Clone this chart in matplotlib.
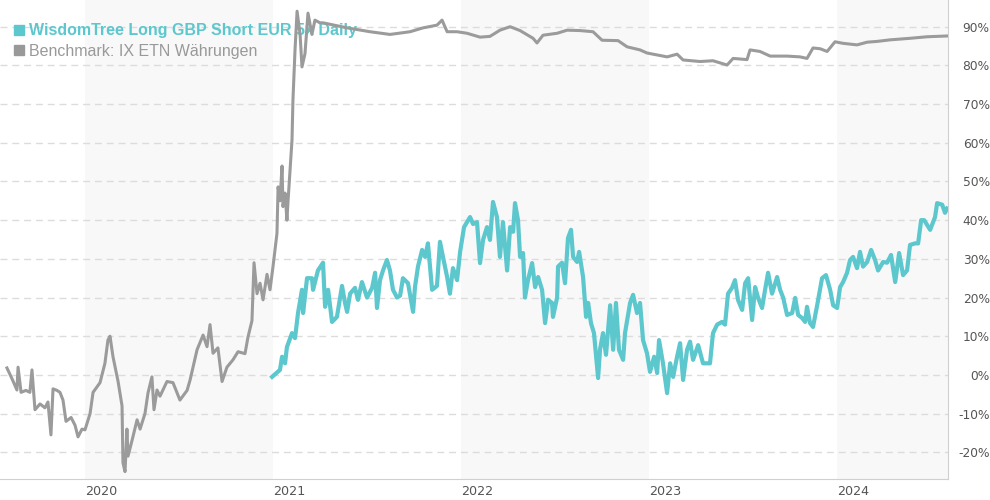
import matplotlib.pyplot as plt
from matplotlib.lines import Line2D

# Benchmark (grau): Zeit als Dezimaljahr, Wert in %
bench_t = [2019.585, 2019.612, 2019.638, 2019.644, 2019.660, 2019.686, 2019.707, 2019.718, 2019.734, 2019.761,
           2019.787, 2019.803, 2019.819, 2019.830, 2019.851, 2019.867, 2019.883, 2019.899, 2019.926, 2019.947,
           2019.963, 2019.984, 2020.000, 2020.027, 2020.043, 2020.080, 2020.106, 2020.122, 2020.133, 2020.149,
           2020.176, 2020.197, 2020.202, 2020.213, 2020.223, 2020.229, 2020.255, 2020.277, 2020.293, 2020.319,
           2020.335, 2020.356, 2020.367, 2020.383, 2020.399, 2020.436, 2020.468, 2020.505, 2020.543, 2020.559,
           2020.596, 2020.628, 2020.649, 2020.665, 2020.681, 2020.707, 2020.729, 2020.755, 2020.787, 2020.814,
           2020.851, 2020.867, 2020.888, 2020.899, 2020.915, 2020.931, 2020.947, 2020.968, 2020.984, 2021.000,
           2021.021, 2021.027, 2021.037, 2021.048, 2021.053, 2021.064, 2021.074, 2021.080, 2021.101, 2021.106,
           2021.117, 2021.128, 2021.144, 2021.154, 2021.170, 2021.186, 2021.207, 2021.223, 2021.250, 2021.266,
           2021.394, 2021.516, 2021.622, 2021.729, 2021.798, 2021.872, 2021.899, 2021.926, 2021.979, 2022.032,
           2022.101, 2022.154, 2022.207, 2022.261, 2022.314, 2022.383, 2022.404, 2022.436, 2022.511, 2022.564,
           2022.633, 2022.702, 2022.750, 2022.835, 2022.883, 2022.952, 2022.989, 2023.096, 2023.149, 2023.181,
           2023.271, 2023.340, 2023.415, 2023.447, 2023.521, 2023.537, 2023.590, 2023.644, 2023.734, 2023.803,
           2023.840, 2023.872, 2023.910, 2023.947, 2023.989, 2024.032, 2024.106, 2024.160, 2024.213, 2024.282,
           2024.388, 2024.479, 2024.585]
bench_v = [1.8, -1, -3.9, 2, -4.5, -4, -4.5, 1.3, -9, -7.5,
           -8.5, -7, -15.5, -3.6, -4, -4.5, -6.5, -12, -11, -13,
           -16, -14, -14.2, -10, -4.5, -2, 3, 9, 10, 4.7,
           -1.7, -8, -22.7, -25, -14, -21, -16, -11.6, -14, -10,
           -4.7, -0.5, -9, -3.9, -5.5, -1.7, -2, -6.5, -4, -1.3,
           6.5, 10.3, 7.3, 13, 5.6, 7, -1.7, 2, 3.9, 6,
           5.5, 9.8, 14, 29, 21, 23.7, 19.4, 26, 22, 28,
           36.6, 48.6, 45, 54, 43.5, 47, 40, 45, 60.7, 71,
           84, 94, 88, 79.6, 83, 93.5, 88, 91.7, 91, 91,
           89.7, 88.7, 88, 88.7, 89.7, 90.4, 91.7, 88.7, 88.7, 88.3,
           87.3, 87.5, 89.1, 90, 89, 87, 85.8, 87.8, 88.3, 89.1,
           89, 88.7, 86.5, 86.4, 84.8, 84, 83.2, 82.2, 82.9, 81.4,
           81, 81.2, 80.1, 81.8, 81.5, 84, 83.6, 82.4, 82.4, 82.2,
           81.8, 84.5, 84.3, 83.6, 86.1, 85.7, 85.3, 86, 86.2, 86.6,
           87, 87.4, 87.6]

# WisdomTree Long GBP Short EUR 5x Daily (türkis)
etp_t = [2020.995, 2021.037, 2021.048, 2021.064, 2021.074, 2021.101, 2021.117, 2021.133, 2021.154, 2021.160,
         2021.181, 2021.207, 2021.213, 2021.239, 2021.266, 2021.277, 2021.293, 2021.314, 2021.340, 2021.367,
         2021.383, 2021.394, 2021.410, 2021.436, 2021.452, 2021.473, 2021.500, 2021.527, 2021.543, 2021.553,
         2021.569, 2021.585, 2021.606, 2021.622, 2021.638, 2021.660, 2021.676, 2021.691, 2021.718, 2021.745,
         2021.755, 2021.771, 2021.793, 2021.809, 2021.824, 2021.846, 2021.872, 2021.888, 2021.904, 2021.926,
         2021.941, 2021.957, 2021.979, 2021.995, 2022.016, 2022.048, 2022.064, 2022.085, 2022.101, 2022.117,
         2022.138, 2022.154, 2022.170, 2022.191, 2022.207, 2022.223, 2022.245, 2022.261, 2022.277, 2022.287,
         2022.303, 2022.314, 2022.330, 2022.340, 2022.356, 2022.378, 2022.394, 2022.410, 2022.431, 2022.447,
         2022.463, 2022.484, 2022.489, 2022.511, 2022.516, 2022.537, 2022.553, 2022.569, 2022.585, 2022.596,
         2022.617, 2022.628, 2022.649, 2022.665, 2022.676, 2022.691, 2022.707, 2022.729, 2022.739, 2022.755,
         2022.771, 2022.793, 2022.809, 2022.824, 2022.840, 2022.862, 2022.872, 2022.899, 2022.915, 2022.936,
         2022.952, 2022.968, 2022.989, 2023.005, 2023.027, 2023.043, 2023.053, 2023.074, 2023.096, 2023.112,
         2023.128, 2023.149, 2023.165, 2023.181, 2023.202, 2023.218, 2023.234, 2023.261, 2023.287, 2023.324,
         2023.340, 2023.362, 2023.388, 2023.404, 2023.420, 2023.441, 2023.457, 2023.473, 2023.495, 2023.511,
         2023.527, 2023.548, 2023.564, 2023.580, 2023.601, 2023.617, 2023.633, 2023.654, 2023.681, 2023.697,
         2023.713, 2023.734, 2023.761, 2023.777, 2023.793, 2023.814, 2023.830, 2023.840, 2023.856, 2023.872,
         2023.894, 2023.920, 2023.941, 2023.963, 2023.979, 2024.000, 2024.016, 2024.032, 2024.053, 2024.069,
         2024.085, 2024.106, 2024.122, 2024.138, 2024.160, 2024.181, 2024.202, 2024.218, 2024.245, 2024.266,
         2024.287, 2024.309, 2024.330, 2024.351, 2024.372, 2024.388, 2024.415, 2024.431, 2024.447, 2024.463,
         2024.495, 2024.521, 2024.532, 2024.559, 2024.574, 2024.585]
etp_v = [-0.5, 1.3, 4.7, 3, 7.2, 10.8, 9.5, 16, 22, 16,
         25, 25, 22, 27, 29, 17.6, 22, 13.7, 15, 23,
         18.6, 16.3, 21, 22.5, 19.4, 24, 20, 22.5, 26.4, 17.3,
         24.5, 27, 29.7, 27, 22, 20, 20.5, 25, 23.7, 16.3,
         22.7, 28, 32.3, 30.5, 34, 22, 23, 34.4, 30.5, 25.3,
         21, 27.6, 24.5, 31.8, 38.2, 40.8, 39, 39.5, 28.9, 34.9,
         38.2, 34.9, 44.7, 40.8, 30.5, 39.5, 27, 38.2, 37, 44.4,
         40, 30.5, 31.5, 20, 24.5, 28.9, 22.7, 25.3, 22, 13.4,
         19.4, 18.6, 15, 20, 28, 29, 23.7, 35.4, 37.5, 30.5,
         29.2, 31.8, 25.3, 15, 18.6, 13.4, 10.8, -0.8, 6.5, 10.8,
         5.2, 18, 6.5, 18.6, 6.5, 3.9, 10.8, 18.6, 20.7, 16,
         18.6, 9, 5.6, 0.8, 4.7, 0.5, 9, 3, -4.7, 3,
         -0.5, 4.7, 8.2, -1.3, 6.5, 8.6, 3.9, 7.7, 3, 3,
         10.8, 13, 13.7, 13, 21, 22.5, 24.5, 19.4, 16.8, 23.7,
         25, 14.2, 22.7, 19.9, 17.3, 22, 26.4, 21, 25.3, 22,
         20, 15.5, 16, 19.9, 15.5, 14.7, 13.7, 17.6, 13.4, 12.4,
         18, 25, 25.8, 22, 18, 17.3, 22.7, 24, 26.4, 29.7,
         30.5, 27.6, 31.8, 28, 29.2, 32.3, 29.7, 27, 29.2, 29,
         31, 24, 31.5, 25.8, 27, 33.6, 34, 34, 40, 40,
         37.5, 40.8, 44.4, 44, 41.9, 43]

years = [2020, 2021, 2022, 2023, 2024]
y_ticks = list(range(-20, 100, 10))

teal = "#5cc7cd"
grey = "#9b9b9b"

fig = plt.figure(figsize=(9.9, 5), dpi=100)
ax = fig.add_axes([0.0, 0.042, 0.9576, 0.958])

x_min, x_max = 2019.548, 2024.59
ax.set_xlim(x_min, x_max)
ax.set_ylim(-26.9, 96.9)

# Hintergrundbänder für jedes zweite Jahr
for y0 in years[::2]:
    ax.axvspan(y0, min(y0 + 1, x_max), color="#f8f8f8", zorder=0, lw=0)

for v in y_ticks:
    ax.axhline(v, color="#dcdcdc", lw=1, ls=(0, (5, 3.5)), zorder=0.5)

ax.plot(bench_t, bench_v, color=grey, lw=2.2, zorder=3, solid_joinstyle="round")
ax.plot(etp_t, etp_v, color=teal, lw=3.0, zorder=4, solid_joinstyle="round")

for s in ["top", "left"]:
    ax.spines[s].set_visible(False)
ax.spines["right"].set_color("#d0d0d0")
ax.spines["bottom"].set_color("#d0d0d0")

ax.yaxis.tick_right()
ax.set_yticks(y_ticks)
ax.set_yticklabels([f"{v}%" for v in y_ticks], ha="right")
ax.tick_params(axis="y", length=0, pad=30, labelsize=8.8, labelcolor="#555555")

ax.set_xticks(years)
ax.set_xticklabels([str(y) for y in years], ha="left")
ax.tick_params(axis="x", length=0, pad=4, labelsize=9.2, labelcolor="#555555")

handles = [Line2D([], [], ls="", marker="s", ms=7, color=teal),
           Line2D([], [], ls="", marker="s", ms=7, color="#999999")]
leg = ax.legend(handles, ["WisdomTree Long GBP Short EUR 5x Daily", "Benchmark: IX ETN Währungen"],
                loc="upper left", bbox_to_anchor=(-0.002, 0.985), frameon=False,
                handlelength=0.6, handletextpad=0.35, labelspacing=0.36, borderaxespad=0.6,
                prop={"family": "Liberation Sans", "size": 11.5})
leg.set_zorder(1)
t1, t2 = leg.get_texts()
t1.set_color(teal)
t1.set_fontweight("bold")
t2.set_color("#999999")

fig.savefig("out.png", dpi=100)
